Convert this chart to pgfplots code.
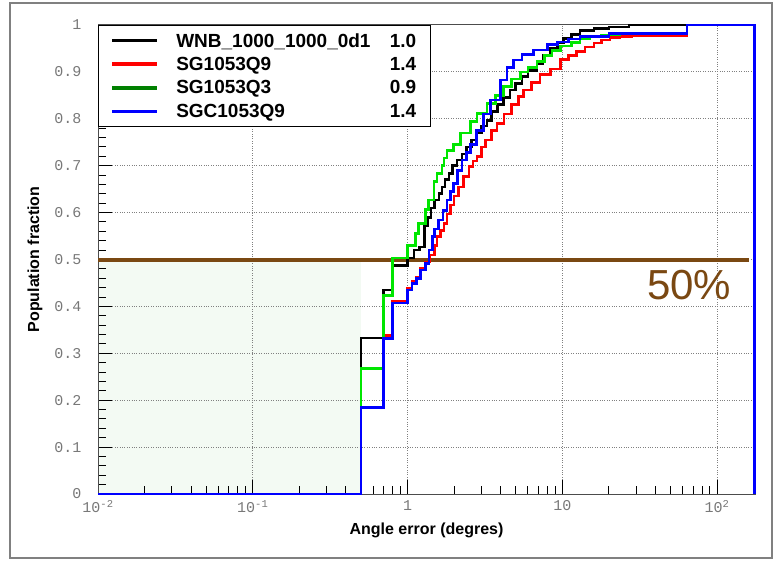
\documentclass[border=0pt]{standalone}
\usepackage{pgfplots}
\pgfplotsset{compat=1.18}
\usepackage{fontspec}
\setmainfont{Liberation Sans}
\newfontfamily\monofont{Liberation Mono}
\definecolor{brownline}{RGB}{122,72,18}
\definecolor{shade}{RGB}{243,250,243}
\definecolor{legreen}{RGB}{0,128,0}
\definecolor{lime}{RGB}{0,230,0}
\definecolor{ticklab}{RGB}{120,120,120}
\pgfplotsset{set layers}

\begin{document}
\begin{tikzpicture}
\path (-98pt,-69pt) rectangle (678pt,494pt);
\draw[gray, line width=1.5pt] (-88pt,-64pt) rectangle (674pt,491pt);
\begin{axis}[
    scale only axis,
    width=657pt, height=469pt,
    at={(0pt,0pt)}, anchor=south west,
    xmode=log,
    xmin=0.01, xmax=176,
    ymin=0, ymax=1,
    clip=false,
    tick pos=left,
    xtick={0.01,0.1,1,10,100},
    xticklabels={10\textsuperscript{-2},10\textsuperscript{-1},1,10,10\textsuperscript{2}},
    ytick={0,0.1,...,1},
    yticklabels={0,0.1,0.2,0.3,0.4,0.5,0.6,0.7,0.8,0.9,1},
    minor y tick num=4,
    major tick length=14pt,
    minor tick length=8pt,
    tick style={black, line width=1pt},
    grid=major,
    major grid style={gray, dotted, line width=1pt},
    axis line style={black!70, line width=1pt},
    ticklabel style={font=\monofont\fontsize{15}{15}\selectfont, text=ticklab},
    yticklabel style={xshift=-13pt},
    xticklabel style={yshift=-3pt},
    xlabel={Angle error (degres)},
    ylabel={Population fraction},
    label style={font=\bfseries\fontsize{16}{16}\selectfont},
    xlabel style={at={(axis description cs:0.5,-0.077)}, anchor=center},
    ylabel style={at={(axis description cs:-0.096,0.5)}, anchor=center},
    legend style={at={(0,1)}, anchor=north west, draw=black, line width=1pt,
      font=\bfseries\fontsize{19}{22}\selectfont, inner xsep=12pt, inner ysep=6pt,
      row sep=5.5pt},
    legend cell align=left,
    legend image code/.code={\draw[#1, line width=3.5pt] (0pt,0pt) -- (45pt,0pt);
      \path[draw=none] (0pt,0pt) -- (62pt,0pt);},
  ]
  % shaded region below 50 %
  \addplot[on layer=axis background, fill=shade, draw=none, forget plot]
    coordinates {(0.01,0) (0.5,0) (0.5,0.5) (0.01,0.5) (0.01,0)};

  \addlegendimage{black}
  \addlegendentry{\parbox{240pt}{WNB\_1000\_1000\_0d1\hfill 1.0}}
  \addlegendimage{red}
  \addlegendentry{\parbox{240pt}{SG1053Q9\hfill 1.4}}
  \addlegendimage{legreen}
  \addlegendentry{\parbox{240pt}{SG1053Q3\hfill 0.9}}
  \addlegendimage{blue}
  \addlegendentry{\parbox{240pt}{SGC1053Q9\hfill 1.4}}

  % 50 % line
  \addplot[brownline, line width=4pt, forget plot]
    coordinates {(0.01,0.5) (160,0.5)};

  % WNB_1000_1000_0d1
  \addplot[black, line width=2.6pt, const plot, forget plot] coordinates {
    (0.01,0) (0.5,0.333) (0.7,0.435) (0.8,0.487) (1.0,0.503) (1.1,0.52)
    (1.2,0.527) (1.29,0.573) (1.35,0.59) (1.42,0.61) (1.5,0.627) (1.6,0.641)
    (1.67,0.655) (1.75,0.67) (1.85,0.684) (1.95,0.70) (2.09,0.712) (2.25,0.725)
    (2.4,0.74) (2.6,0.755) (2.8,0.77) (3.0,0.785) (3.26,0.797) (3.5,0.815)
    (3.8,0.83) (4.18,0.845) (4.6,0.861) (5.0,0.875) (5.5,0.89) (6.0,0.903)
    (6.85,0.917) (7.5,0.935) (8.4,0.95) (9.3,0.962) (10.2,0.971) (11.5,0.98)
    (13,0.988) (16,0.993) (20,0.996) (27,1.0) (175,0)
  };
  % SG1053Q9
  \addplot[red, line width=2.6pt, const plot, forget plot] coordinates {
    (0.01,0) (0.5,0.185) (0.7,0.338) (0.8,0.41) (1.0,0.439) (1.07,0.453)
    (1.14,0.463) (1.21,0.481) (1.31,0.495) (1.4,0.51) (1.5,0.53) (1.55,0.549)
    (1.63,0.562) (1.72,0.577) (1.8,0.597) (1.89,0.616) (2.0,0.635) (2.14,0.655)
    (2.3,0.677) (2.49,0.698) (2.65,0.71) (2.81,0.72) (3.0,0.74) (3.18,0.755)
    (3.5,0.775) (3.79,0.79) (4.2,0.81) (4.7,0.83) (5.2,0.848) (5.63,0.861)
    (6.3,0.877) (7.2,0.895) (8.4,0.906) (9.7,0.926) (11,0.935) (12.4,0.943)
    (14,0.953) (16,0.962) (18,0.968) (20.4,0.973) (23.6,0.976) (28,0.978)
    (64,1.0) (175,0)
  };
  % SG1053Q3
  \addplot[lime, line width=2.6pt, const plot, forget plot] coordinates {
    (0.01,0) (0.5,0.267) (0.7,0.423) (0.8,0.503) (1.0,0.53) (1.13,0.556)
    (1.18,0.577) (1.31,0.606) (1.37,0.627) (1.48,0.666) (1.55,0.684) (1.67,0.70)
    (1.72,0.716) (1.8,0.733) (1.99,0.745) (2.2,0.77) (2.55,0.794) (2.81,0.811)
    (3.26,0.833) (3.7,0.85) (4.18,0.869) (4.7,0.885) (5.35,0.90) (6.0,0.91)
    (6.85,0.922) (7.7,0.935) (8.6,0.945) (9.7,0.955) (11.5,0.963) (13,0.971)
    (15,0.975) (18,0.979) (23.6,0.981) (64,1.0) (175,0)
  };
  % SGC1053Q9
  \addplot[blue, line width=2.6pt, const plot, forget plot] coordinates {
    (0.01,0) (0.5,0.185) (0.7,0.332) (0.8,0.407) (1.0,0.435) (1.07,0.449)
    (1.14,0.46) (1.21,0.478) (1.31,0.492) (1.38,0.52) (1.45,0.549) (1.5,0.565)
    (1.59,0.584) (1.7,0.605) (1.8,0.627) (1.9,0.645) (1.99,0.662) (2.1,0.69)
    (2.25,0.712) (2.4,0.728) (2.55,0.745) (2.8,0.775) (3.1,0.81) (3.43,0.84)
    (3.98,0.883) (4.4,0.91) (4.84,0.925) (5.5,0.937) (6.5,0.947) (8,0.958)
    (9.3,0.964) (11,0.97) (13,0.976) (20,0.982) (64,1.0) (175,0)
  };

  \node[anchor=base east, text=brownline, font=\fontsize{42}{42}\selectfont]
    at (axis cs:130,0.414) {50\%};
\end{axis}
\end{tikzpicture}
\end{document}
